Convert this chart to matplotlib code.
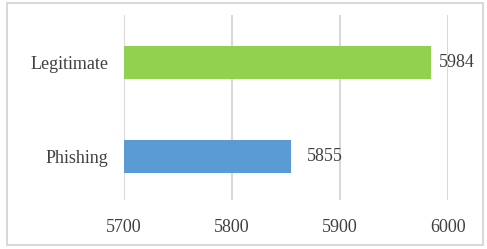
import matplotlib
matplotlib.use("Agg")
import matplotlib.pyplot as plt
from matplotlib.patches import Rectangle

categories = ["Phishing", "Legitimate"]
counts = [5855, 5984]
colors = ["#5B9BD5", "#92D050"]
x_ticks = [5700, 5800, 5900, 6000]
label_offsets = [15, 8]  # px gap between bar end and value label

plt.rcParams['font.family'] = ['Liberation Serif', 'DejaVu Serif']

fig = plt.figure(figsize=(4.87, 2.49), dpi=100)
ax = fig.add_axes([124 / 487, 49 / 249, (448 - 124) / 487, 185 / 249])

# frame around the whole chart
fig.patches.append(Rectangle((7 / 487, 4 / 249), 476 / 487, 242 / 249,
                             transform=fig.transFigure, fill=False,
                             edgecolor="#D9D9D9", linewidth=1.5))

pos = list(range(len(categories)))
ax.barh(pos, [c - x_ticks[0] for c in counts], left=x_ticks[0],
        height=0.35, color=colors, zorder=3)

for p, c, off in zip(pos, counts, label_offsets):
    ax.annotate(str(c), (c, p), xytext=(off * 0.72, 0), textcoords="offset points",
                va="center", ha="left", fontsize=13, color="#404040")

ax.set_xlim(x_ticks[0], x_ticks[-1])
ax.set_ylim(-0.46, 1.505)
ax.set_xticks(x_ticks)
ax.set_yticks(pos)
ax.set_yticklabels(categories)
ax.grid(axis="x", color="#D9D9D9", linewidth=1.5, zorder=0)
for s in ax.spines.values():
    s.set_visible(False)
ax.tick_params(axis="both", length=0, labelsize=13, labelcolor="#404040")
ax.tick_params(axis="x", pad=14)
ax.tick_params(axis="y", pad=11)

fig.savefig("out.png", dpi=100)
